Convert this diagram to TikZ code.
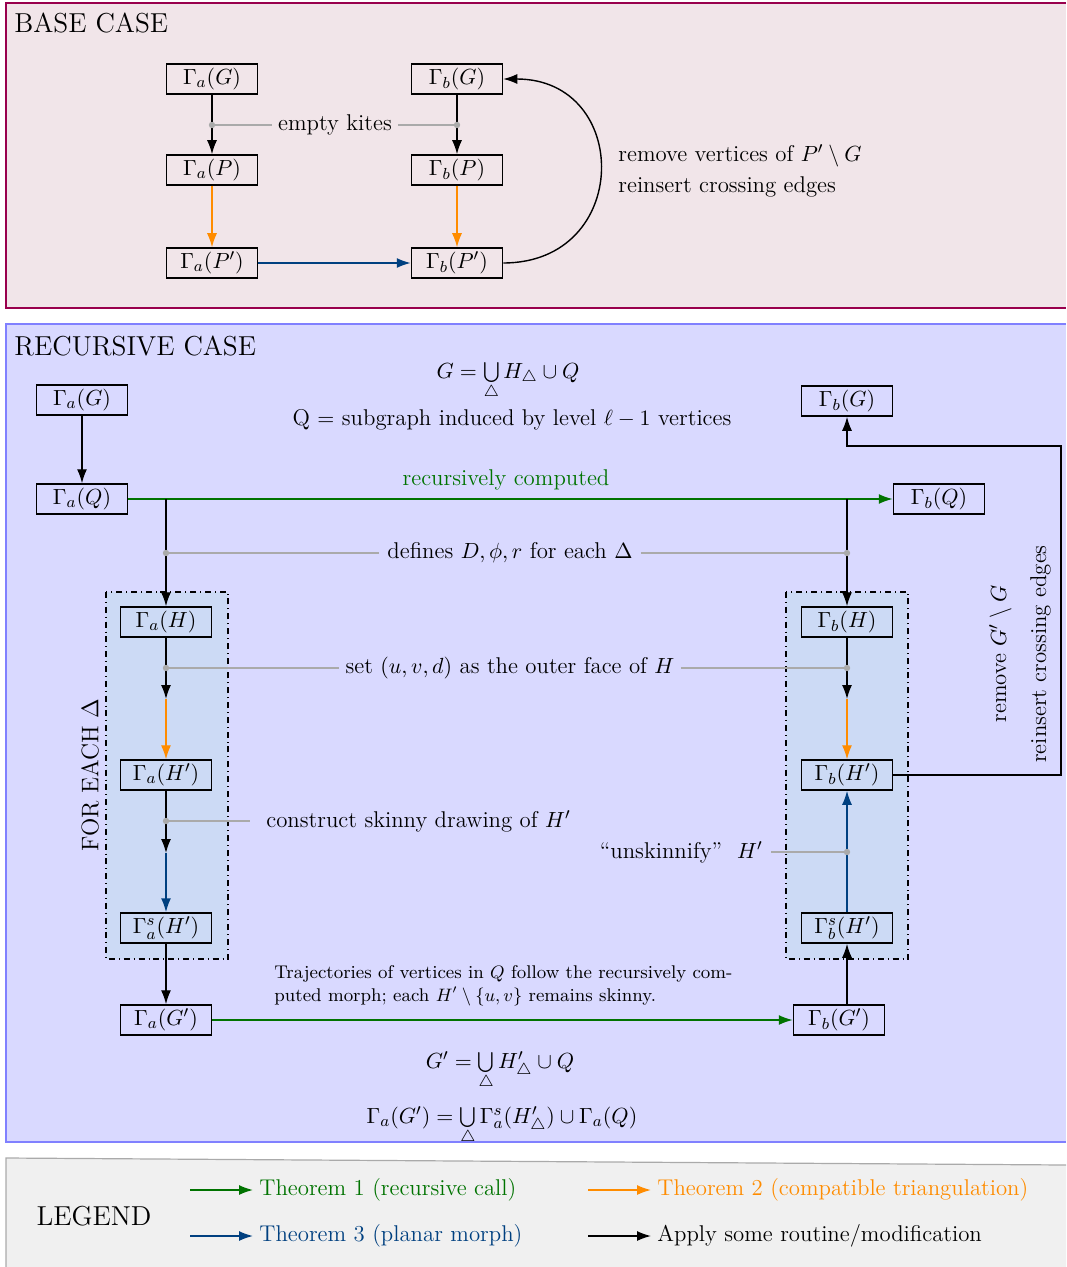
\documentclass[tikz,border=0pt]{standalone}
\usetikzlibrary{arrows.meta,calc}
\definecolor{basebg}{RGB}{241,229,233}
\definecolor{baseborder}{RGB}{153,0,77}
\definecolor{recbg}{RGB}{217,217,255}
\definecolor{recborder}{RGB}{128,128,255}
\definecolor{innerbg}{RGB}{204,218,245}
\definecolor{legbg}{RGB}{240,240,240}
\definecolor{legborder}{RGB}{170,170,170}
\definecolor{mygreen}{RGB}{0,115,0}
\definecolor{myorange}{RGB}{255,140,0}
\definecolor{myblue}{RGB}{0,64,128}
\definecolor{notegray}{RGB}{170,170,170}
\begin{document}
\begin{tikzpicture}[x=0.5pt,y=-0.5pt,
  box/.style={draw, line width=0.75pt, minimum width=45.5pt, minimum height=15pt, inner sep=0.5pt, font=\fontsize{11.4}{13}\selectfont},
  tip/.style={-{Latex[length=7pt,width=5pt]}},
  blk/.style={tip, line width=0.7pt, black},
  garr/.style={tip, line width=0.8pt, mygreen},
  oarr/.style={tip, line width=0.6pt, myorange},
  barr/.style={tip, line width=0.8pt, myblue},
  note/.style={line width=0.6pt, notegray},
  txt/.style={font=\fontsize{11.4}{13}\selectfont},
  head/.style={font=\fontsize{13.7}{16}\selectfont},
  dotc/.style={fill=notegray}
]
\useasboundingbox (0,0) rectangle (1066,1267);

% ---------- panels ----------
\fill[basebg] (6,3) rectangle (1066,308);
\draw[baseborder, line width=0.6pt] (1066,3) -- (6,3) -- (6,308) -- (1066,308);
\fill[recbg] (6,324) rectangle (1066,1142);
\draw[recborder, line width=0.6pt] (1066,324) -- (6,324) -- (6,1142) -- (1066,1142);
\fill[legbg] (6,1158) -- (1066,1165) -- (1066,1267) -- (6,1267) -- cycle;
\draw[legborder, line width=0.6pt] (1066,1165) -- (6,1158) -- (6,1267);

\node[head, anchor=base west, inner sep=0pt] (bchead) at (14,33) {BASE CASE};
\node[head, anchor=base west, inner sep=0pt] (rchead) at (14,355) {RECURSIVE CASE};

% ---------- base case ----------
\node[box] (baG) at (212,79) {$\Gamma_a(G)$};
\node[box] (bbG) at (457,79) {$\Gamma_b(G)$};
\node[box] (baP) at (212,170) {$\Gamma_a(P)$};
\node[box] (bbP) at (457,170) {$\Gamma_b(P)$};
\node[box] (baPp) at (212,263) {$\Gamma_a(P')$};
\node[box] (bbPp) at (457,263) {$\Gamma_b(P')$};
\coordinate (bk1) at (212,125);
\coordinate (bk2) at (457,125);
\draw[blk] (baG) -- (baP);
\draw[blk] (bbG) -- (bbP);
\draw[oarr] (baP) -- (baPp);
\draw[oarr] (bbP) -- (bbPp);
\draw[barr] (baPp) -- (bbPp);
\draw[blk] (bbPp.east) .. controls (632,263) and (632,79) .. (bbG.east);
\node[txt, inner sep=3pt] (kites) at (335,125) {empty kites};
\draw[note] (bk1) -- (kites.west);
\draw[note] (kites.east) -- (bk2);
\fill[dotc] (bk1) circle (1.6pt);
\fill[dotc] (bk2) circle (1.6pt);
\node[anchor=west, align=left, inner sep=0pt, font=\fontsize{11.4}{15.5}\selectfont] (bremove) at (618,171) {remove vertices of $P'\setminus G$\\reinsert crossing edges};

% ---------- recursive case ----------
\draw[dash dot, line width=0.6pt, fill=innerbg] (106,592) rectangle (228,959);
\draw[dash dot, line width=0.6pt, fill=innerbg] (786,592) rectangle (908,959);

\node[txt, anchor=base] (eqG) at (508,378) {$G=\bigcup\limits_{\triangle}H_{\triangle}\cup Q$};
\node[txt, anchor=base] (eqQ) at (512,425) {Q $=$ subgraph induced by level $\ell-1$ vertices};

\node[box] (aG) at (82,400) {$\Gamma_a(G)$};
\node[box] (aQ) at (82,499) {$\Gamma_a(Q)$};
\node[box] (bG) at (847,401) {$\Gamma_b(G)$};
\node[box] (bQ) at (939,499) {$\Gamma_b(Q)$};
\node[box] (aH) at (166,622) {$\Gamma_a(H)$};
\node[box] (bH) at (847,622) {$\Gamma_b(H)$};
\node[box] (aHp) at (166,775) {$\Gamma_a(H')$};
\node[box] (bHp) at (847,775) {$\Gamma_b(H')$};
\node[box] (asHp) at (166,928) {$\Gamma^s_a(H')$};
\node[box] (bsHp) at (847,928) {$\Gamma^s_b(H')$};
\node[box] (aGp) at (166,1020) {$\Gamma_a(G')$};
\node[box] (bGp) at (839,1020) {$\Gamma_b(G')$};

\coordinate (j1) at (166,499);
\coordinate (j2) at (847,499);
\coordinate (d1) at (166,553);
\coordinate (d2) at (847,553);
\coordinate (d3) at (166,668);
\coordinate (d4) at (847,668);
\coordinate (m1) at (166,699);
\coordinate (m3) at (847,699);
\coordinate (d5) at (166,821);
\coordinate (m2) at (166,853);
\coordinate (d6) at (847,852);
\coordinate (rc) at (1061,446);

\draw[blk] (aG) -- (aQ);
\draw[garr] (aQ) -- (bQ);
\node[txt, anchor=base, text=mygreen] (rcomp) at (506,485) {recursively computed};
\draw[blk] (j1) -- (aH);
\draw[blk] (j2) -- (bH);
\draw[blk] (aH) -- (m1);
\draw[oarr] (m1) -- (aHp);
\draw[blk] (bH) -- (m3);
\draw[oarr] (m3) -- (bHp);
\draw[blk] (aHp) -- (m2);
\draw[barr] (m2) -- (asHp);
\draw[barr] (bsHp) -- (bHp);
\draw[blk] (asHp) -- (aGp);
\draw[garr] (aGp) -- (bGp);
\draw[blk] (bGp.north -| bsHp.south) -- (bsHp.south);
\draw[blk] (bHp.east) -| (rc) -| (bG.south);

\node[txt, inner sep=4pt] (defines) at (510,553) {defines $D,\phi,r$ for each $\Delta$};
\draw[note] (d1) -- (defines.west);
\draw[note] (defines.east) -- (d2);
\node[txt, inner sep=3pt] (setuvd) at (510,668) {set $(u,v,d)$ as the outer face of $H$};
\draw[note] (d3) -- (setuvd.west);
\draw[note] (setuvd.east) -- (d4);
\node[txt, anchor=west, inner sep=8pt] (skinny) at (250,821) {construct skinny drawing of $H'$};
\draw[note] (d5) -- (skinny.west);
\node[txt, anchor=east, inner sep=4pt] (unsk) at (771,852) {``unskinnify''~ $H'$};
\draw[note] (unsk.east) -- (d6);
\foreach \d in {d1,d2,d3,d4,d5,d6} \fill[dotc] (\d) circle (1.6pt);

\node[rotate=90, font=\fontsize{12}{14}\selectfont] (foreach) at (90,775) {FOR EACH $\Delta$};
\node[rotate=90, align=center, font=\fontsize{11.4}{20}\selectfont] (gremove) at (1020,654) {remove $G'\setminus G$\\reinsert crossing edges};

\node[anchor=north west, align=left, inner sep=0pt, font=\fontsize{9.2}{11.5}\selectfont] (traj) at (274,965) {Trajectories of vertices in $Q$ follow the recursively com-\\puted morph; each $H'\setminus\{u,v\}$ remains skinny.};

\node[txt, anchor=base] (eqGp) at (500,1068) {$G'=\bigcup\limits_{\triangle}H'_{\triangle}\cup Q$};
\node[txt, anchor=base] (eqGam) at (502,1123) {$\Gamma_a(G')=\bigcup\limits_{\triangle}\Gamma^s_a(H'_{\triangle})\cup\Gamma_a(Q)$};

% ---------- legend ----------
\node[head, anchor=center] (legend) at (94,1216) {LEGEND};
\coordinate (l1) at (190,1190);
\coordinate (l2) at (588,1190);
\coordinate (l3) at (190,1236);
\coordinate (l4) at (588,1236);
\node[txt, anchor=west, inner sep=3pt, text=mygreen] (t1) at (253,1190) {Theorem 1 (recursive call)};
\node[txt, anchor=west, inner sep=3pt, text=myorange] (t2) at (651,1190) {Theorem 2 (compatible triangulation)};
\node[txt, anchor=west, inner sep=3pt, text=myblue] (t3) at (253,1236) {Theorem 3 (planar morph)};
\node[txt, anchor=west, inner sep=3pt] (t4) at (651,1236) {Apply some routine/modification};
\draw[garr] (l1) -- (t1.west);
\draw[oarr, line width=0.8pt] (l2) -- (t2.west);
\draw[barr] (l3) -- (t3.west);
\draw[blk] (l4) -- (t4.west);
\end{tikzpicture}
\end{document}
